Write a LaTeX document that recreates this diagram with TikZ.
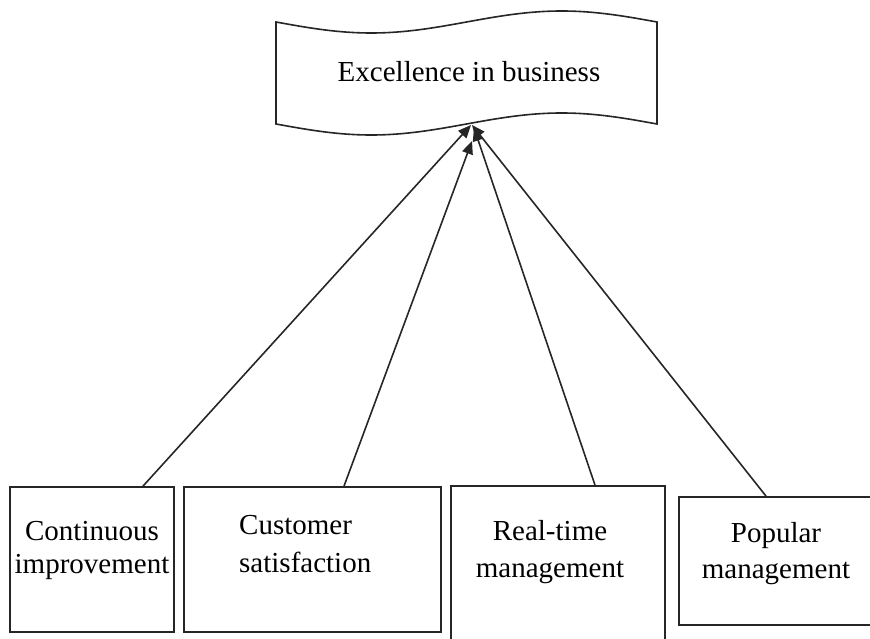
\documentclass[tikz,border=0pt]{standalone}
\usepackage{fontspec}
\setmainfont{Liberation Serif}
\usetikzlibrary{arrows.meta,calc}
\tikzset{
  box/.style={draw=black!85, line width=1.8pt, inner sep=0pt},
  lbl/.style={font=\fontsize{29}{36}\selectfont, inner sep=0pt, anchor=base},
  link/.style={draw=black!85, line width=1.6pt, -{Triangle[length=13pt,width=11pt]}},
}
\begin{document}
\begin{tikzpicture}[x=1pt,y=-1pt]
\useasboundingbox (0,0) rectangle (870,639);
\begin{scope}
\clip (0,0) rectangle (870,639);
% banner
\draw[black!85, line width=1.6pt, fill=white]
  plot[domain=0:381, samples=80, smooth] ({276+\x},{22+11*sin(0.94488*\x)})
  -- (657,124)
  -- plot[domain=381:0, samples=80, smooth] ({276+\x},{124+11*sin(0.94488*\x)})
  -- cycle;
\node[lbl] (top) at (469,82) {Excellence in business};
% boxes
\node[box, minimum width=164pt, minimum height=145pt] (b1) at (92,559.5) {};
\node[box, minimum width=257pt, minimum height=145pt] (b2) at (312.5,559.5) {};
\node[box, minimum width=214pt, minimum height=214pt] (b3) at (558,593) {};
\node[box, minimum width=221pt, minimum height=128pt] (b4) at (789.5,561) {};
% labels (base anchor = baseline of the last line)
\node[lbl, align=center, font=\fontsize{29}{33}\selectfont] (t1) at (92,573) {Continuous\\improvement};
\node[lbl, align=left, anchor=base west, font=\fontsize{29}{38}\selectfont] (t2) at (239,572) {Customer\\satisfaction};
\node[lbl, align=center, font=\fontsize{29}{37}\selectfont] (t3) at (550,577) {Real-time\\management};
\node[lbl, align=center, font=\fontsize{29}{36}\selectfont] (t4) at (776,578) {Popular\\management};
% arrow targets
\coordinate (e1) at (471,125);
\coordinate (e2) at (472,141);
\coordinate (e3) at (474,128);
\coordinate (e4) at (472,125);
\draw[link] ($(b1.north)+(51,0)$) -- (e1);
\draw[link] ($(b2.north)+(31.5,0)$) -- (e2);
\draw[link] ($(b3.north)+(37,0)$) -- (e3);
\draw[link] ($(b4.north)+(-23.5,0)$) -- (e4);
\end{scope}
\end{tikzpicture}
\end{document}
